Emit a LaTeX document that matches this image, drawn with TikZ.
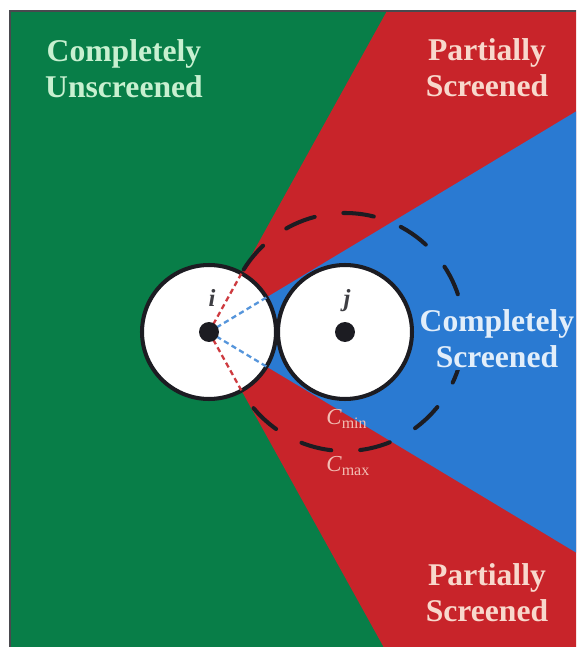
\documentclass[tikz,border=0pt]{standalone}
\usepackage{fontspec}
\setmainfont{Liberation Serif}
\definecolor{scrGreen}{RGB}{8,126,72}
\definecolor{scrRed}{RGB}{200,36,42}
\definecolor{scrBlue}{RGB}{42,122,210}
\definecolor{atomEdge}{RGB}{28,28,34}
\definecolor{txtGreen}{RGB}{200,240,208}
\definecolor{txtRed}{RGB}{248,216,204}
\definecolor{txtBlue}{RGB}{226,238,250}
\definecolor{cLabel}{RGB}{242,190,180}
\usetikzlibrary{calc}

\begin{document}
\begin{tikzpicture}[x=0.02cm, y=0.02cm,
    atom/.style={circle, draw=atomEdge, fill=white, line width=2.3pt,
                 minimum size=2.68cm, inner sep=0pt},
    dot/.style={circle, fill=atomEdge, minimum size=0.4cm, inner sep=0pt},
    zone/.style={align=center, inner sep=0pt,
                 font=\fontsize{18}{20.5}\selectfont\bfseries},
    cmax/.style={draw=atomEdge, line width=2.3pt, line cap=round,
                 dash pattern=on 17.5pt off 16.5pt, dash phase=12.15pt},
    ray/.style={line width=1.3pt, dash pattern=on 3pt off 2pt}
  ]
  \useasboundingbox (0,0) rectangle (576,647);
  \coordinate (oi) at (209,315);
  \coordinate (oj) at (345,315);

  % screening zones
  \begin{scope}
    \clip (10,0) rectangle (576,636);
    \fill[scrGreen] (10,0) rectangle (576,636);
    \fill[scrRed] (oi) -- ($(oi)+(61:900)$) -- ($(oi)+(-61:900)$) -- cycle;
    \fill[scrBlue] (oi) -- ($(oi)+(31:900)$) -- ($(oi)+(-31:900)$) -- cycle;
  \end{scope}
  \draw[atomEdge!80, line width=1pt] (10,0) -- (10,636) -- (576,636);

  \draw[cmax] (oj) circle (119);

  \node[atom] (ai) at (oi) {};
  \node[atom] (aj) at (oj) {};
  \draw[ray, scrRed!90!white] (ai.center) -- (ai.61);
  \draw[ray, scrRed!90!white] (ai.center) -- (ai.-61);
  \draw[ray, scrBlue!80!white] (ai.center) -- (ai.31);
  \draw[ray, scrBlue!80!white] (ai.center) -- (ai.-31);
  \node[dot] (di) at (ai.center) {};
  \node[dot] (dj) at (aj.center) {};

  \node[anchor=base, font=\fontsize{14}{16}\selectfont\bfseries\itshape,
        text=atomEdge!85] (li) at (212,340) {i};
  \node[anchor=base, font=\fontsize{14}{16}\selectfont\bfseries\itshape,
        text=atomEdge!85] (lj) at (347,340) {j};

  \node[anchor=base west, inner sep=0pt, text=cLabel,
        font=\fontsize{13}{15}\selectfont] (cmin) at (326,222)
        {\textit{C}\textsubscript{min}};
  \node[anchor=base west, inner sep=0pt, text=cLabel,
        font=\fontsize{13}{15}\selectfont] (cmx) at (326,175)
        {\textit{C}\textsubscript{max}};

  \node[zone, text=txtGreen] (unscr) at (124,578) {Completely\\Unscreened};
  \node[zone, text=txtRed] (partTop) at (487,579) {Partially\\Screened};
  \node[zone, text=txtBlue, fill=scrBlue, inner sep=1pt] (full) at (497,308)
        {Completely\\Screened};
  \node[zone, text=txtRed] (partBot) at (487,54) {Partially\\Screened};
\end{tikzpicture}
\end{document}
